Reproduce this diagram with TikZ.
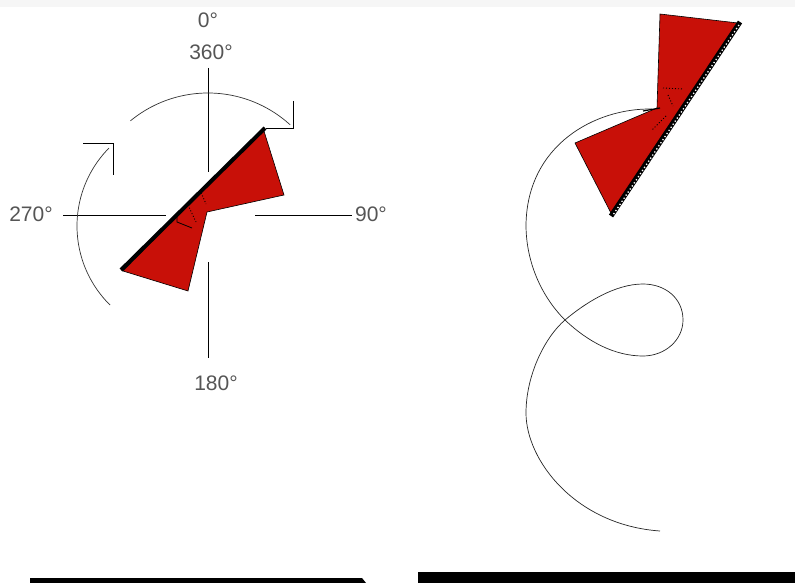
\documentclass[tikz,border=0pt]{standalone}
\usepackage{fontspec}
\setmainfont{Liberation Sans}
\definecolor{bowred}{RGB}{200,16,8}
\definecolor{labelgray}{RGB}{85,85,85}
\definecolor{topgray}{RGB}{246,246,246}
\tikzset{
  deg/.style={font=\fontsize{21}{21}\selectfont, text=labelgray, inner sep=0pt},
  axisline/.style={line width=1pt, black},
  rotarc/.style={line width=0.7pt, black!80},
  corner/.style={line width=1pt, black},
  bowtie/.style={fill=bowred, draw=black, line width=0.6pt, line join=miter},
  edgebar/.style={line width=4pt, black},
  path/.style={line width=0.7pt, black!85},
  dotmark/.style={line width=0.9pt, black, dash pattern=on 1pt off 2pt}
}
\begin{document}
\begin{tikzpicture}[x=1pt,y=-1pt]
\useasboundingbox (0,0) rectangle (795,583);
\fill[topgray] (0,0) rectangle (795,7);

% ---- left figure: axes ----
\draw[axisline] (208,68) -- (208,172);
\draw[axisline] (208,262) -- (208,358);
\draw[axisline] (63,215) -- (166,215);
\draw[axisline] (255,215) -- (352,215);

\node[deg] (zero) at (208,20) {0°};
\node[deg] (threesixty) at (211,52) {360°};
\node[deg] (twoseventy) at (31,214) {270°};
\node[deg] (ninety) at (371,214) {90°};
\node[deg] (oneeighty) at (216,383) {180°};

% rotation arcs
\draw[rotarc] plot[domain=-129.5:-47.7, samples=80] ({208+122*cos(\x)},{215+122*sin(\x)});
\draw[rotarc] plot[domain=134.6:224.6, samples=80] ({188+111*cos(\x)},{226+111*sin(\x)});
\draw[corner] (293,101) -- (293,129) -- (266,129);
\draw[corner] (83,144) -- (113,144) -- (113,175);

% left bowtie
\draw[bowtie] (263,128) -- (284,195) -- (207,212) -- (188,291) -- (123,271) -- cycle;
\draw[edgebar] (121,270) -- (265,128);
\draw[dotmark] (200,190) -- (206,204);
\draw[dotmark] (188,205) -- (196,222);
\draw[line width=0.8pt] (177,215) -- (177,222) -- (192,228);

% ---- right figure ----
\draw[path] (652,109) .. controls (595,108) and (527,145) .. (526,225)
  .. controls (526,260) and (540,295) .. (565,320)
  .. controls (588,342) and (615,356) .. (643,356)
  .. controls (665,356) and (683,340) .. (683,320)
  .. controls (683,298) and (665,284) .. (643,284)
  .. controls (615,284) and (585,303) .. (565,320)
  .. controls (545,337) and (526,375) .. (526,413)
  .. controls (526,460) and (575,525) .. (660,531);

\draw[bowtie] (660,14) -- (738,23) -- (612,215) -- (575,143) -- (657,108) -- cycle;
\draw[line width=1.2pt] (643,111) -- (660,108);
\draw[line width=5pt] (740,22) -- (611,216);
\draw[white, line width=1.3pt, dash pattern=on 1.3pt off 2.4pt] (739,25) -- (613,215);
\draw[dotmark] (663,88) -- (683,89);
\draw[dotmark] (668,95) -- (673,106);
\draw[dotmark] (666,116) -- (652,130);

% bottom bars
\fill[black] (30,578) -- (362,578) -- (366,583) -- (30,583) -- cycle;
\fill[black] (418,572) rectangle (795,583);
\end{tikzpicture}
\end{document}
